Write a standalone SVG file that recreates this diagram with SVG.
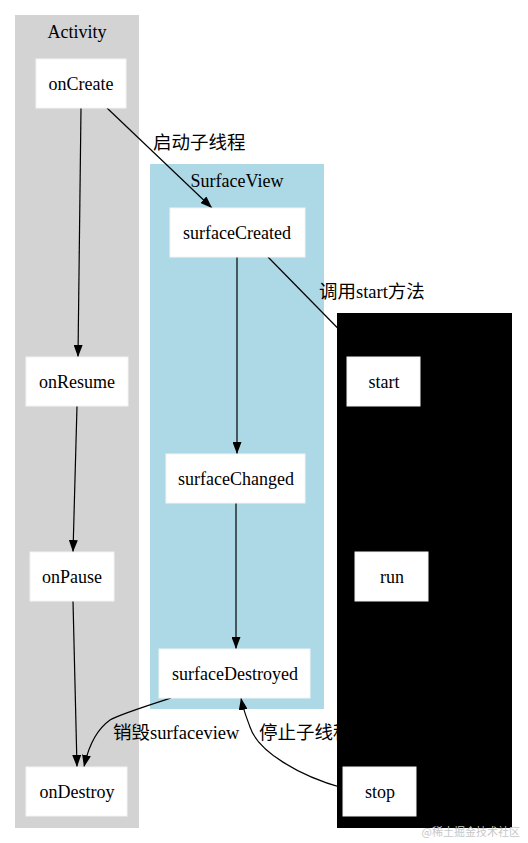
<svg xmlns="http://www.w3.org/2000/svg" width="528" height="843" viewBox="0 0 528 843">
<defs>
<marker id="arr" markerWidth="12" markerHeight="9" refX="12" refY="4.5" orient="auto" markerUnits="userSpaceOnUse">
<path d="M0,0 L12,4.5 L0,9 Z" fill="#000"/>
</marker>
<style>
.t{font-family:"Liberation Serif","Noto Sans CJK SC",serif;font-size:18px;fill:#000;text-anchor:middle}
.l{font-family:"Liberation Serif","Noto Sans CJK SC",serif;font-size:18.5px;fill:#000}
.n{fill:#fff;stroke:#f4f4f4;stroke-width:1}
.e{fill:none;stroke:#000;stroke-width:1.2;marker-end:url(#arr)}
</style>
</defs>
<rect width="528" height="843" fill="#fff"/>
<g id="cluster_activity">
<rect x="15" y="15" width="124" height="813" fill="#d3d3d3"/>
<text class="t" x="77" y="38">Activity</text>
</g>
<g id="cluster_surfaceview">
<rect x="150" y="164" width="174" height="545" fill="#add8e6"/>
<text class="t" x="237" y="187">SurfaceView</text>
</g>
<g id="connectors">
<path class="e" d="M81,108 L78,357"/>
<path class="e" d="M107,108 L212,208"/>
<text class="l" x="153" y="149">启动子线程</text>
<path class="e" d="M237,257 L237,454"/>
<path class="e" d="M236,503 L236,649"/>
<path class="e" d="M268,257 L366,357"/>
<text class="l" x="319" y="298">调用start方法</text>
<path class="e" d="M77,406 L73,552"/>
<path class="e" d="M73,601 L77,767"/>
<path class="e" d="M171,698 C140,708 118,715 110,720 C96,730 88,748 84,767"/>
<text class="l" x="113" y="739">销毁surfaceview</text>
<path class="e" d="M343,788 C300,776 258,752 250,727 C246,716 243,709 241,698"/>
<text class="l" x="259" y="739">停止子线程</text>
</g>
<g id="cluster_thread">
<rect x="337" y="313" width="175" height="515" fill="#000"/>
</g>
<g id="onCreate"><rect class="n" x="36" y="59" width="90" height="49"/><text class="t" x="81" y="90">onCreate</text></g>
<g id="onResume"><rect class="n" x="26" y="357" width="102" height="49"/><text class="t" x="77" y="388">onResume</text></g>
<g id="onPause"><rect class="n" x="30" y="552" width="84" height="49"/><text class="t" x="72" y="583">onPause</text></g>
<g id="onDestroy"><rect class="n" x="26" y="767" width="101" height="49"/><text class="t" x="77" y="798">onDestroy</text></g>
<g id="surfaceCreated"><rect class="n" x="170" y="208" width="135" height="49"/><text class="t" x="237" y="239">surfaceCreated</text></g>
<g id="surfaceChanged"><rect class="n" x="166" y="454" width="139" height="49"/><text class="t" x="236" y="485">surfaceChanged</text></g>
<g id="surfaceDestroyed"><rect class="n" x="159" y="649" width="151" height="49"/><text class="t" x="235" y="680">surfaceDestroyed</text></g>
<g id="start"><rect class="n" x="347" y="357" width="73" height="49"/><text class="t" x="384" y="388">start</text></g>
<g id="run"><rect class="n" x="355" y="552" width="73" height="49"/><text class="t" x="392" y="583">run</text></g>
<g id="stop"><rect class="n" x="343" y="767" width="73" height="49"/><text class="t" x="380" y="798">stop</text></g>
<text x="520" y="836" font-family="'Noto Sans CJK SC',sans-serif" font-size="11" fill="#c8c8c8" text-anchor="end">@稀土掘金技术社区</text>
</svg>
